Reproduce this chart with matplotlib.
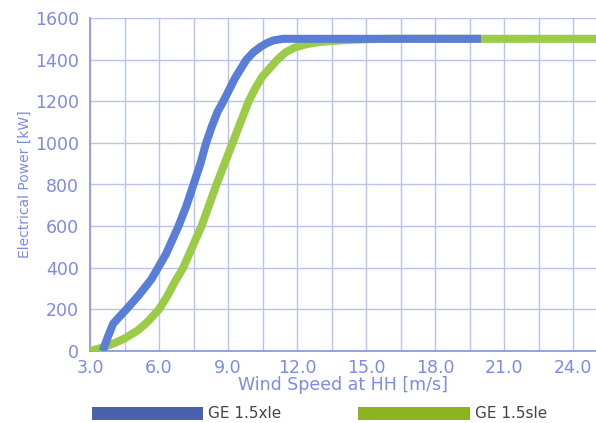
import matplotlib
matplotlib.use("Agg")
import matplotlib.pyplot as plt
from matplotlib.patches import Patch

# Data
xle_ws = [3.55, 3.75, 4.0, 4.2, 4.58, 5.1, 5.67, 6.3, 6.85, 7.2, 7.5, 7.8, 8.05, 8.3, 8.55, 8.8, 9.3, 9.8, 10.1, 10.4, 10.7, 11.0, 11.4, 20.0]
xle_kw = [0, 60, 130, 155, 200, 265, 345, 465, 600, 700, 800, 900, 1000, 1080, 1150, 1200, 1310, 1400, 1435, 1460, 1480, 1493, 1500, 1500]

sle_ws = [3.0, 3.5, 4.07, 4.5, 5.09, 5.5, 6.0, 6.35, 6.68, 7.05, 7.85, 8.5, 9.2, 9.55, 9.9, 10.2, 10.5, 11.15, 11.5, 11.9, 12.4, 13.0, 14.0, 15.0, 16.0, 25.0]
sle_kw = [0, 15, 38, 60, 100, 140, 200, 262, 330, 400, 600, 800, 1000, 1100, 1200, 1265, 1320, 1400, 1435, 1458, 1474, 1485, 1493, 1498, 1500, 1500]

series_names = ["GE 1.5xle", "GE 1.5sle"]
x_ticks = [3.0, 6.0, 9.0, 12.0, 15.0, 18.0, 21.0, 24.0]
x_minor = [4.5, 7.5, 10.5, 13.5, 16.5, 19.5, 22.5]
y_ticks = [0, 200, 400, 600, 800, 1000, 1200, 1400, 1600]

blue_line = "#587ed6"
green_line = "#9ccb48"
blue_leg = "#4a62ad"
green_leg = "#8bb51e"
grid_c = "#bcc2ee"
spine_c = "#8f9ae2"
text_c = "#7c8ae6"

fig = plt.figure(figsize=(5.96, 4.23), dpi=100)
ax = fig.add_axes([90/596, 1 - 351/423, 1 - 90/596, (351 - 18)/423])

ax.plot(sle_ws, sle_kw, color=green_line, lw=5.8, solid_capstyle="butt", solid_joinstyle="round", zorder=3)
ax.plot(xle_ws, xle_kw, color=blue_line, lw=5.8, solid_capstyle="butt", solid_joinstyle="round", zorder=4)

ax.set_xlim(3.0, 25.0)
ax.set_ylim(0, 1600)
ax.set_xticks(x_ticks)
ax.set_xticks(x_minor, minor=True)
ax.set_yticks(y_ticks)
ax.set_xticklabels([f"{v:.1f}" for v in x_ticks])
ax.grid(True, which="both", color=grid_c, lw=1.0, zorder=1)
ax.tick_params(which="both", length=0, colors=text_c, labelsize=12.5)
ax.tick_params(axis="y", pad=8)
ax.tick_params(axis="x", pad=6)

for side in ["top", "right"]:
    ax.spines[side].set_visible(False)
for side in ["left", "bottom"]:
    ax.spines[side].set_color(spine_c)
    ax.spines[side].set_linewidth(1.3)

ax.set_xlabel("Wind Speed at HH [m/s]", color=text_c, fontsize=12.5, labelpad=-1)
ax.set_ylabel("Electrical Power [kW]", color=text_c, fontsize=10, labelpad=2)

handles = [Patch(facecolor=blue_leg, edgecolor="none"), Patch(facecolor=green_leg, edgecolor="none")]
leg = fig.legend(handles, series_names, loc="lower left", bbox_to_anchor=(90/596, 0.0),
                 ncol=2, frameon=False, fontsize=11, handlelength=7.3, handleheight=0.9,
                 handletextpad=0.35, columnspacing=5.0, borderaxespad=0.0, borderpad=0.1)
for t in leg.get_texts():
    t.set_color("#444444")

fig.savefig("out.png", dpi=100)
